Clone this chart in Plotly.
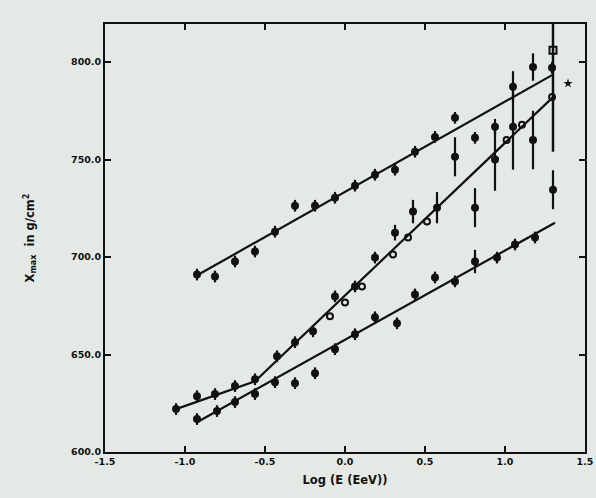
import plotly.graph_objects as go

# ---- data ----
upper_x = [-0.925, -0.8125, -0.6875, -0.5625, -0.4375, -0.3125, -0.1875, -0.0625, 0.0625, 0.1875,
           0.3125, 0.4375, 0.5625, 0.6875, 1.05, 1.175, 1.294]
upper_y = [691.0, 690.0, 697.7, 702.8, 713.0, 726.3, 726.3, 730.4, 736.6, 742.2,
           744.8, 754.0, 761.6, 771.4, 787.3, 797.4, 797.0]
upper_err = [3, 3, 3, 3, 3, 3, 3, 3, 3, 3, 3, 3, 3, 3, 8, 7, 3]

mid_x = [-1.056, -0.925, -0.8125, -0.6875, -0.5625, -0.425, -0.3125, -0.2, -0.0625, 0.0625,
         0.1875, 0.3125, 0.425, 0.575, 0.6875, 0.8125, 0.8125, 0.9375, 0.9375, 1.05, 1.175, 1.3]
mid_y = [622.0, 628.6, 629.7, 633.8, 637.3, 649.1, 656.3, 661.9, 679.8, 684.9,
         699.7, 712.5, 723.3, 725.3, 751.4, 761.1, 725.3, 766.8, 750.0, 766.8, 760.0, 734.5]
mid_err = [3, 3, 3, 3, 3, 3, 3, 3, 3, 3, 3, 4, 6, 8, 10, 3, 10, 4, 16, 22, 15, 10]

open_x = [-0.094, 0.0, 0.106, 0.3, 0.394, 0.5125, 1.01, 1.106, 1.294]
open_y = [669.6, 676.7, 684.9, 701.3, 710.0, 718.2, 760.0, 767.8, 782.0]

sq_x = [1.3]
sq_y = [806.0]
sq_err_plus = [23]
sq_err_minus = [52]

star_x = [1.394]
star_y = [789.0]

lower_x = [-0.925, -0.8, -0.6875, -0.5625, -0.4375, -0.3125, -0.1875, -0.0625, 0.0625, 0.1875,
           0.325, 0.4375, 0.5625, 0.6875, 0.8125, 0.95, 1.0625, 1.1875]
lower_y = [616.9, 621.0, 625.6, 629.7, 635.8, 635.3, 640.4, 652.7, 660.4, 669.1,
           666.0, 680.8, 689.5, 687.5, 697.7, 699.7, 706.4, 710.0]
lower_err = [3, 3, 3, 3, 3, 3, 3, 3, 3, 3, 3, 3, 3, 3, 6, 3, 3, 3]

fit_upper_x = [-0.9375, 1.294]
fit_upper_y = [690.0, 793.3]
fit_mid_x = [-1.056, -0.5625, 1.3]
fit_mid_y = [622.0, 636.3, 782.0]
fit_lower_x = [-0.925, 1.3125]
fit_lower_y = [615.3, 717.6]

x_ticks = [-1.5, -1.0, -0.5, 0.0, 0.5, 1.0, 1.5]
x_tick_text = ["-1.5", "-1.0", "-0.5", "0.0", "0.5", "1.0", "1.5"]
y_ticks = [600, 650, 700, 750, 800]
y_tick_text = ["600.0", "650.0", "700.0", "750.0", "800.0"]

BG = "#e4e9e6"
INK = "#111111"

fig = go.Figure()

for fx, fy in [(fit_upper_x, fit_upper_y), (fit_mid_x, fit_mid_y), (fit_lower_x, fit_lower_y)]:
    fig.add_trace(go.Scatter(x=fx, y=fy, mode="lines", line=dict(color=INK, width=2.2),
                             showlegend=False, hoverinfo="skip"))

def filled(xs, ys, errs):
    fig.add_trace(go.Scatter(
        x=xs, y=ys, mode="markers",
        marker=dict(symbol="circle", size=8, color=INK),
        error_y=dict(type="data", array=errs, color=INK, thickness=2.2, width=0),
        showlegend=False))

filled(upper_x, upper_y, upper_err)
filled(mid_x, mid_y, mid_err)
filled(lower_x, lower_y, lower_err)

fig.add_trace(go.Scatter(
    x=open_x, y=open_y, mode="markers",
    marker=dict(symbol="circle-open", size=6, color=INK, line=dict(width=2, color=INK)),
    showlegend=False))

fig.add_trace(go.Scatter(
    x=sq_x, y=sq_y, mode="markers",
    marker=dict(symbol="square-open", size=7, color=INK, line=dict(width=2, color=INK)),
    error_y=dict(type="data", symmetric=False, array=sq_err_plus, arrayminus=sq_err_minus,
                 color=INK, thickness=2.5, width=0),
    cliponaxis=False, showlegend=False))

fig.add_trace(go.Scatter(
    x=star_x, y=star_y, mode="markers",
    marker=dict(symbol="star", size=7, color=INK),
    showlegend=False))

axis_common = dict(
    showline=True, linecolor=INK, linewidth=2, mirror="ticks",
    ticks="inside", ticklen=6, tickwidth=2, tickcolor=INK,
    showgrid=False, zeroline=False, automargin=False,
    tickfont=dict(family="DejaVu Sans", size=9.5, color=INK),
)

fig.update_xaxes(range=[-1.5, 1.5], tickvals=x_ticks,
                 ticktext=["<b>%s</b>" % t for t in x_tick_text],
                 title=dict(text="<b>Log (E (EeV))</b>", font=dict(family="DejaVu Sans", size=11.5, color=INK),
                            standoff=10),
                 **axis_common)
fig.update_yaxes(range=[600, 819.5], tickvals=y_ticks,
                 ticktext=["<b>%s</b>" % t for t in y_tick_text],
                 title=dict(text="<b>X<sub>max</sub>  in g/cm<sup>2</sup></b>",
                            font=dict(family="DejaVu Sans", size=11.5, color=INK), standoff=34),
                 **axis_common)

fig.update_layout(
    width=596, height=498,
    margin=dict(l=105, r=11, t=24, b=46),
    paper_bgcolor=BG, plot_bgcolor=BG,
    font=dict(family="DejaVu Sans", color=INK),
    showlegend=False,
)

fig.write_html("out.html", config={"displayModeBar": False},
               post_script="document.body.style.margin='0';document.body.style.background='%s';" % BG)
